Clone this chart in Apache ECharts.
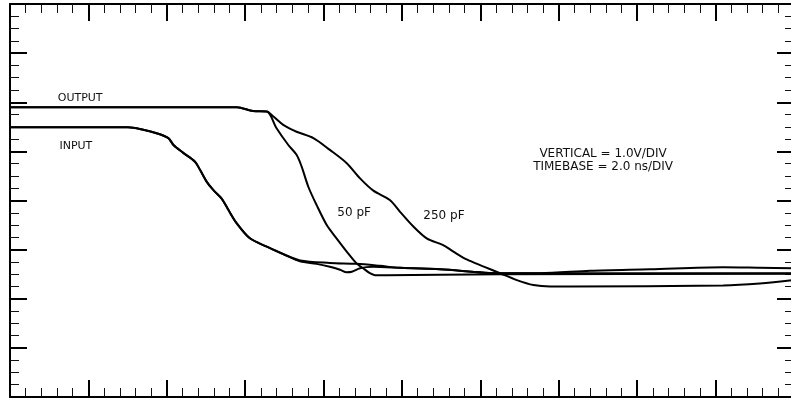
<!DOCTYPE html>
<html>
<head>
<meta charset="utf-8">
<script src="https://cdn.jsdelivr.net/npm/echarts@6/dist/echarts.min.js"></script>
<style>
html,body{margin:0;padding:0;background:#fff;overflow:hidden;}
#c{width:800px;height:402px;}
</style>
</head>
<body>
<div id="c"></div>
<script>
// Time axis: 0..20 ns (2.0 ns/div), vertical: 0..8 V (1.0 V/div)
const xTicks = { min: 0, max: 20, interval: 2, minorSplit: 5 };
const yTicks = { min: 0, max: 8, interval: 1, minorSplit: 4 };

// INPUT trace (run 1)
const inputAT = [0, 3.01, 3.40, 3.74, 4.04, 4.17, 4.42, 4.72, 4.85, 5.02, 5.19, 5.40, 5.57, 5.78, 6.12, 6.55, 6.97, 7.40, 8.16, 8.84, 9.44, 9.95, 10.97, 12.5, 14.03, 20];
const inputAV = [5.49, 5.49, 5.44, 5.37, 5.27, 5.13, 4.97, 4.79, 4.62, 4.38, 4.21, 4.04, 3.81, 3.54, 3.23, 3.06, 2.91, 2.78, 2.73, 2.71, 2.67, 2.63, 2.60, 2.52, 2.52, 2.52];

// INPUT trace (run 2)
const inputBT = [0, 3.01, 3.40, 3.74, 4.04, 4.17, 4.42, 4.72, 4.85, 5.02, 5.19, 5.40, 5.57, 5.78, 6.12, 6.55, 6.97, 7.40, 7.82, 8.16, 8.42, 8.59, 8.72, 8.93, 9.26, 9.95, 10.97, 12.5, 13.52, 14.80, 16.33, 18.19, 19.13, 20];
const inputBV = [5.49, 5.49, 5.44, 5.37, 5.27, 5.13, 4.97, 4.79, 4.62, 4.38, 4.21, 4.04, 3.81, 3.54, 3.23, 3.06, 2.91, 2.76, 2.71, 2.65, 2.59, 2.54, 2.55, 2.62, 2.65, 2.63, 2.60, 2.52, 2.52, 2.57, 2.60, 2.64, 2.63, 2.62];

// OUTPUT, 50 pF load
const out50T = [0, 5.79, 6.20, 6.55, 6.80, 7.10, 7.31, 7.44, 7.61, 7.82, 8.08, 8.33, 8.59, 8.84, 9.01, 9.18, 9.31, 9.61, 10.97, 12.5, 20];
const out50V = [5.90, 5.90, 5.82, 5.81, 5.47, 5.13, 4.93, 4.69, 4.28, 3.91, 3.50, 3.23, 2.96, 2.72, 2.62, 2.52, 2.48, 2.48, 2.49, 2.50, 2.51];

// OUTPUT, 250 pF load
const out250T = [0, 5.79, 6.20, 6.55, 6.72, 6.97, 7.31, 7.74, 8.16, 8.59, 8.93, 9.27, 9.69, 9.95, 10.29, 10.63, 11.05, 11.31, 11.65, 12.07, 12.5, 12.93, 13.35, 13.78, 14.29, 18.19, 19.13, 20];
const out250V = [5.90, 5.90, 5.82, 5.81, 5.71, 5.54, 5.40, 5.27, 5.03, 4.76, 4.45, 4.20, 4.01, 3.77, 3.47, 3.23, 3.09, 2.96, 2.80, 2.66, 2.52, 2.38, 2.28, 2.25, 2.25, 2.27, 2.31, 2.38];

// Annotations [text, t (ns), v (V), fontSize]
const labels = [
  ['OUTPUT', 1.79, 6.09, 11],
  ['INPUT', 1.68, 5.11, 11],
  ['50 pF', 8.78, 3.75, 12],
  ['250 pF', 11.07, 3.69, 12],
  ['VERTICAL = 1.0V/DIV', 15.13, 4.95, 12],
  ['TIMEBASE = 2.0 ns/DIV', 15.13, 4.69, 12]
];

const zip = (a, b) => a.map((t, i) => [t, b[i]]);

function xAxisDef(pos) {
  return {
    type: 'value', position: pos, min: xTicks.min, max: xTicks.max, interval: xTicks.interval,
    axisLine: { show: true, onZero: false, lineStyle: { color: '#000', width: 2 } },
    axisTick: { show: true, inside: true, length: 17, lineStyle: { color: '#000', width: 2 } },
    minorTick: { show: true, splitNumber: xTicks.minorSplit, length: 9, lineStyle: { color: '#111', width: 1 } },
    axisLabel: { show: false }, splitLine: { show: false }, minorSplitLine: { show: false }
  };
}
function yAxisDef(pos) {
  return {
    type: 'value', position: pos, min: yTicks.min, max: yTicks.max, interval: yTicks.interval,
    axisLine: { show: true, onZero: false, lineStyle: { color: '#000', width: 2 } },
    axisTick: { show: true, inside: true, length: 17, lineStyle: { color: '#000', width: 2 } },
    minorTick: { show: true, splitNumber: yTicks.minorSplit, length: 9, lineStyle: { color: '#111', width: 1 } },
    axisLabel: { show: false }, splitLine: { show: false }, minorSplitLine: { show: false }
  };
}
function trace(name, t, v) {
  return {
    name, type: 'line', xAxisIndex: 0, yAxisIndex: 0, data: zip(t, v),
    showSymbol: false, smooth: 0.3, silent: true,
    lineStyle: { color: '#000', width: 2 }
  };
}

const chart = echarts.init(document.getElementById('c'), null, { renderer: 'canvas' });
chart.setOption({
  animation: false,
  backgroundColor: '#fff',
  grid: { left: 10, top: 4, width: 784, height: 393, containLabel: false, outerBoundsMode: 'none' },
  xAxis: [xAxisDef('bottom'), xAxisDef('top')],
  yAxis: [yAxisDef('left'), yAxisDef('right')],
  series: [
    trace('INPUT 1', inputAT, inputAV),
    trace('INPUT 2', inputBT, inputBV),
    trace('50 pF', out50T, out50V),
    trace('250 pF', out250T, out250V)
  ]
});

const graphics = labels.map(([txt, t, v, fs]) => {
  const p = chart.convertToPixel({ xAxisIndex: 0, yAxisIndex: 0 }, [t, v]);
  return {
    type: 'text', x: p[0], y: p[1], silent: true,
    style: { text: txt, fill: '#111', font: fs + 'px "DejaVu Sans", sans-serif', align: 'center', verticalAlign: 'middle' }
  };
});
chart.setOption({ graphic: graphics });
</script>
</body>
</html>
